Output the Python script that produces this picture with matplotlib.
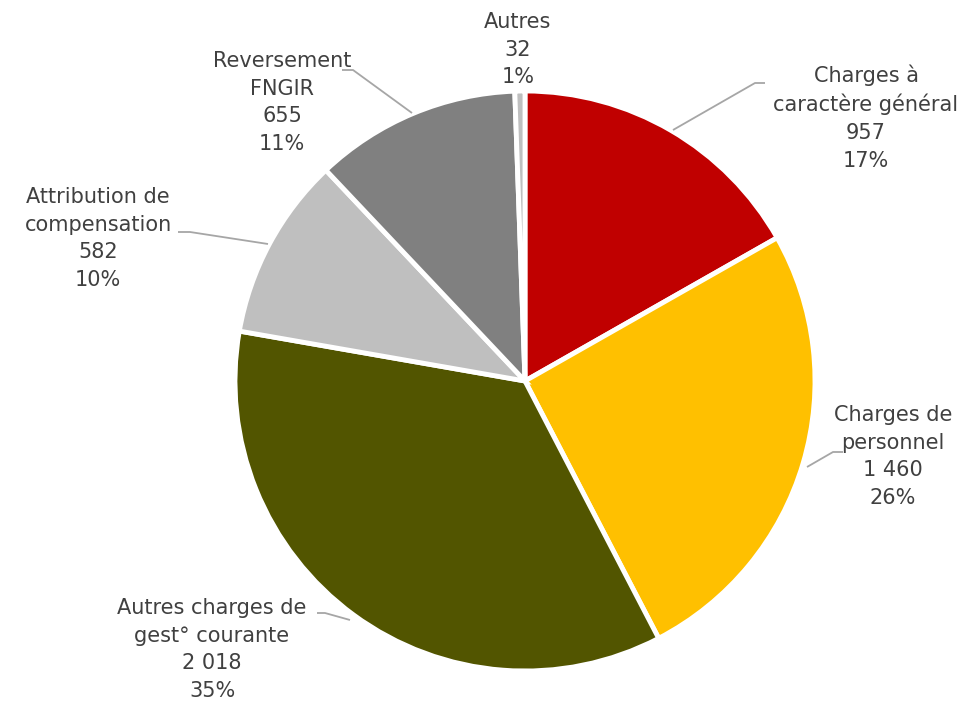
import matplotlib
matplotlib.use("Agg")
import matplotlib.pyplot as plt

# Répartition des charges de fonctionnement
categories = [
    "Charges à\ncaractère général",
    "Charges de\npersonnel",
    "Autres charges de\ngest° courante",
    "Attribution de\ncompensation",
    "Reversement\nFNGIR",
    "Autres",
]
values = [957, 1460, 2018, 582, 655, 32]
colors = ["#C00000", "#FFC000", "#525500", "#BFBFBF", "#808080", "#BFBFBF"]

W, H = 971, 703
fig = plt.figure(figsize=(W / 100, H / 100), dpi=100)
ax = fig.add_axes([0, 0, 1, 1])

cx, cy, r = 525, H - 381, 290
ax.pie(values, colors=colors, startangle=90, counterclock=False,
       center=(cx, cy), radius=r, frame=True,
       wedgeprops=dict(edgecolor="white", linewidth=3.5))
ax.set_xlim(0, W)
ax.set_ylim(0, H)
ax.set_aspect("equal")
ax.axis("off")

total = sum(values)

def fmt(v):
    return f"{v:,}".replace(",", " ")

# label anchor (text center, top-y in pixels) and leader polylines in pixels
label_pos = [(866, 64), (893, 405), (212, 598), (98, 187), (282, 51), (518, 12)]
leaders = [
    [(673, 130), (755, 83), (765, 83)],
    [(807, 467), (833, 452), (843, 452)],
    [(350, 620), (325, 613), (317, 613)],
    [(268, 244), (190, 232), (178, 232)],
    [(412, 113), (353, 70), (342, 70)],
    None,
]

txt_color = "#404040"
for cat, v, (lx, ly), ld in zip(categories, values, label_pos, leaders):
    pct = round(100 * v / total)
    s = f"{cat}\n{fmt(v)}\n{pct}%"
    ax.text(lx, H - ly, s, ha="center", va="top", fontsize=15,
            color=txt_color, linespacing=1.48, family="DejaVu Sans",
            multialignment="center")
    if ld:
        xs = [p[0] for p in ld]
        ys = [H - p[1] for p in ld]
        ax.plot(xs, ys, color="#A6A6A6", lw=1.3, solid_capstyle="butt")

fig.savefig("out.png", dpi=100, facecolor="white")
